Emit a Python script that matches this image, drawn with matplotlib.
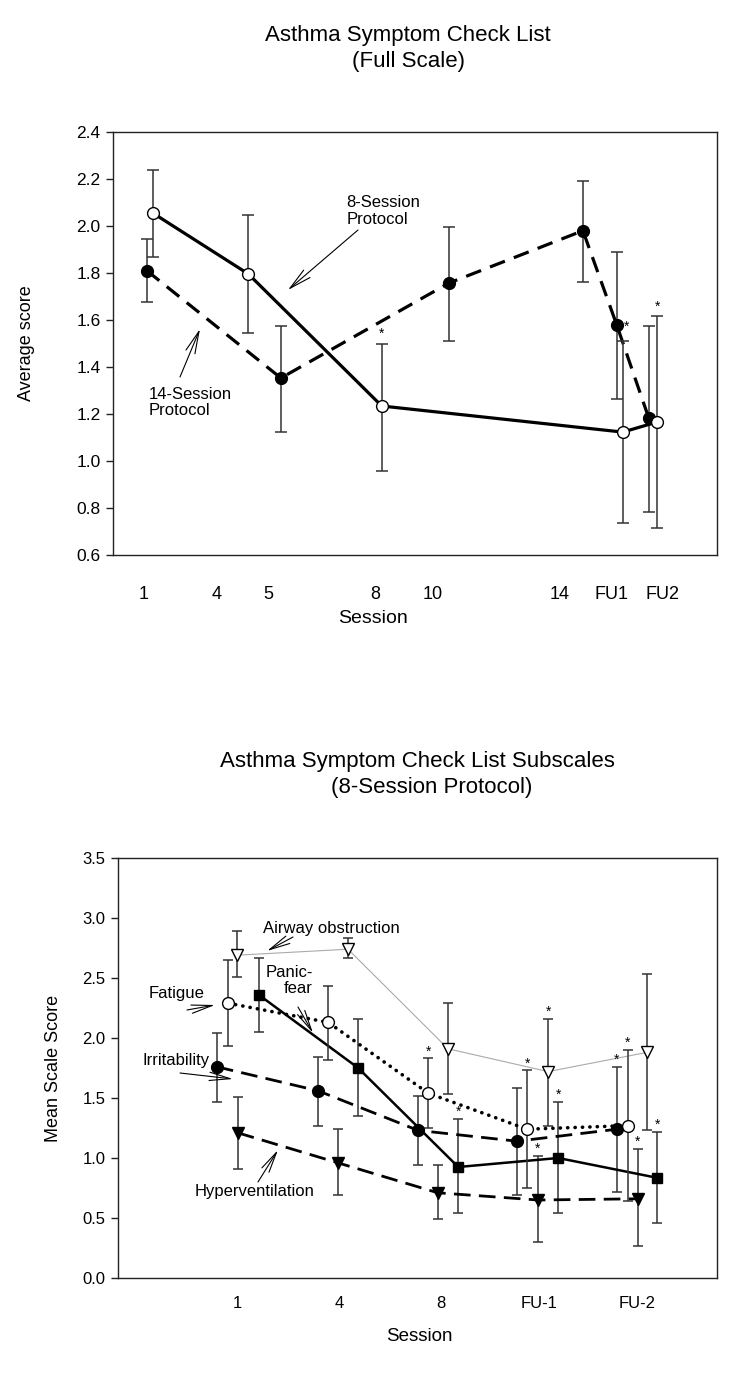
import matplotlib
matplotlib.use("Agg")
import matplotlib.pyplot as plt
import numpy as np

plt.rcParams['font.family'] = ['Liberation Sans', 'DejaVu Sans']

# ---------------- Top chart data (Full Scale) ----------------
top_tick_pos = [5.0, 17.2, 25.7, 43.5, 53.0, 74.0, 82.6, 90.9]
top_tick_labels = ['1', '4', '5', '8', '10', '14', 'FU1', 'FU2']

s8_x = [6.6, 22.4, 44.5, 84.4, 90.1]
s8_y = [2.055, 1.796, 1.234, 1.123, 1.166]
s8_hi = [2.24, 2.047, 1.50, 1.51, 1.617]
s8_lo = [1.87, 1.545, 0.957, 0.736, 0.715]
s8_star = [False, False, True, False, True]

s14_x = [5.6, 27.8, 55.6, 77.8, 83.4, 88.7]
s14_y = [1.81, 1.353, 1.757, 1.98, 1.579, 1.183]
s14_hi = [1.945, 1.574, 1.996, 2.19, 1.89, 1.574]
s14_lo = [1.677, 1.123, 1.51, 1.76, 1.264, 0.783]
s14_star = [False, False, False, False, True, False]

# ---------------- Bottom chart data (Subscales) ----------------
bot_tick_pos = [19.9, 36.9, 53.9, 70.3, 86.6]
bot_tick_labels = ['1', '4', '8', 'FU-1', 'FU-2']

air_x = [19.9, 38.4, 55.1, 71.8, 88.3]
air_y = [2.69, 2.74, 1.91, 1.72, 1.88]
air_hi = [2.89, 2.83, 2.29, 2.16, 2.53]
air_lo = [2.51, 2.67, 1.53, 1.27, 1.23]
air_star = [False, False, False, True, False]

fat_x = [18.4, 35.1, 51.8, 68.3, 85.1]
fat_y = [2.29, 2.13, 1.54, 1.24, 1.27]
fat_hi = [2.65, 2.43, 1.83, 1.73, 1.90]
fat_lo = [1.93, 1.82, 1.25, 0.75, 0.64]
fat_star = [False, False, True, True, True]

irr_x = [16.5, 33.4, 50.1, 66.6, 83.3]
irr_y = [1.76, 1.56, 1.23, 1.14, 1.24]
irr_hi = [2.04, 1.84, 1.52, 1.58, 1.76]
irr_lo = [1.47, 1.27, 0.94, 0.69, 0.72]
irr_star = [False, False, False, False, True]

pan_x = [23.5, 40.1, 56.8, 73.5, 90.0]
pan_y = [2.36, 1.75, 0.925, 1.00, 0.835]
pan_hi = [2.67, 2.16, 1.325, 1.47, 1.22]
pan_lo = [2.05, 1.35, 0.54, 0.54, 0.46]
pan_star = [False, False, True, True, True]

hyp_x = [20.0, 36.7, 53.4, 70.1, 86.8]
hyp_y = [1.21, 0.96, 0.71, 0.65, 0.66]
hyp_hi = [1.51, 1.24, 0.94, 1.02, 1.075]
hyp_lo = [0.91, 0.69, 0.49, 0.30, 0.27]
hyp_star = [False, False, False, True, True]

ERR_C = '#333333'
W = 750
H = 1396
fig = plt.figure(figsize=(W / 100, H / 100), dpi=100)


def draw_series(ax, x, y, lo, hi, stars, ls, lc, lw, marker, mfc, ms,
                cap, star_dy=5, star_side=None, dash=None, z=3,
                capstyle='butt'):
    x = np.asarray(x); y = np.asarray(y)
    lo = np.asarray(lo); hi = np.asarray(hi)
    ax.errorbar(x, y, yerr=[y - lo, hi - y], fmt='none', ecolor=ERR_C,
                elinewidth=1.1, capsize=cap, capthick=1.1, zorder=z)
    line, = ax.plot(x, y, linestyle=ls, color=lc, lw=lw, zorder=z + 1,
                    solid_capstyle='butt', dash_capstyle=capstyle)
    if dash is not None:
        line.set_dashes(dash)
    ax.plot(x, y, linestyle='none', marker=marker, mfc=mfc, mec='black',
            mew=1.0, ms=ms, zorder=z + 2)
    for xi, yi, hv, st in zip(x, y, hi, stars):
        if st:
            if star_side == 'right':
                ax.annotate('*', (xi, yi), xytext=(7, -1),
                            textcoords='offset points', ha='center',
                            va='center', fontsize=10, zorder=6)
            else:
                ax.annotate('*', (xi, hv), xytext=(0, star_dy),
                            textcoords='offset points', ha='center',
                            va='center', fontsize=10, zorder=6)


def style_axes(ax, ymin, ymax, step, fmt, lsize):
    for sp in ax.spines.values():
        sp.set_color('#222222')
        sp.set_linewidth(1.0)
    ax.set_ylim(ymin, ymax)
    ax.set_xlim(0, 100)
    ax.set_yticks(np.round(np.arange(ymin, ymax + 1e-9, step), 2))
    ax.yaxis.set_major_formatter(matplotlib.ticker.FormatStrFormatter(fmt))
    ax.tick_params(axis='y', direction='out', length=5, width=1.0,
                   color='#222222', labelsize=lsize, pad=4)


# ---------------- Top axes ----------------
ax1 = fig.add_axes([113 / W, 1 - 555 / H, 604 / W, 423 / H])
style_axes(ax1, 0.6, 2.4, 0.2, '%.1f', 12.5)
ax1.set_xticks(top_tick_pos)
ax1.set_xticklabels(top_tick_labels)
ax1.tick_params(axis='x', length=0, labelsize=13, pad=22)

draw_series(ax1, s14_x, s14_y, s14_lo, s14_hi, s14_star, '--', 'black', 2.3,
            'o', 'black', 8.5, 4.5, star_side='right', dash=(5, 3))
draw_series(ax1, s8_x, s8_y, s8_lo, s8_hi, s8_star, '-', 'black', 2.3,
            'o', 'white', 8.5, 4.5, star_dy=7, z=4)

ax1.set_ylabel('Average score', fontsize=13)
ax1.yaxis.set_label_coords(-0.129, 0.5)
ax1.set_xlabel('Session', fontsize=14)
ax1.xaxis.set_label_coords(0.43, -0.149)
ax1.xaxis.label.set_va('center')

arrow_kw1 = dict(arrowstyle='->,head_length=1.6,head_width=0.35', lw=0.8,
                 color='black', shrinkA=0, shrinkB=0)
ax1.text(0.387, 0.814, '8-Session\nProtocol', transform=ax1.transAxes,
         ha='left', va='center', fontsize=12, linespacing=1.15)
ax1.annotate('', xy=(0.2897, 0.6265), xytext=(0.4056, 0.7683),
             xycoords='axes fraction', textcoords='axes fraction',
             arrowprops=arrow_kw1)
ax1.text(0.0596, 0.3605, '14-Session\nProtocol', transform=ax1.transAxes,
         ha='left', va='center', fontsize=12, linespacing=1.15)
ax1.annotate('', xy=(0.1440, 0.5343), xytext=(0.1109, 0.4208),
             xycoords='axes fraction', textcoords='axes fraction',
             arrowprops=arrow_kw1)

fig.text(408 / W, 1 - 35 / H, 'Asthma Symptom Check List', ha='center',
         va='center', fontsize=16)
fig.text(408 / W, 1 - 61 / H, '(Full Scale)', ha='center', va='center',
         fontsize=16)

# ---------------- Bottom axes ----------------
ax2 = fig.add_axes([118 / W, 1 - 1278 / H, 599 / W, 420 / H])
style_axes(ax2, 0.0, 3.5, 0.5, '%.1f', 12)
ax2.set_xticks(bot_tick_pos)
ax2.set_xticklabels(bot_tick_labels)
ax2.tick_params(axis='x', length=0, labelsize=12, pad=13)

draw_series(ax2, air_x, air_y, air_lo, air_hi, air_star, '-', '#aaaaaa', 0.8,
            'v', 'white', 8.5, 3.8, z=2)
draw_series(ax2, hyp_x, hyp_y, hyp_lo, hyp_hi, hyp_star, '--', 'black', 2.0,
            'v', 'black', 8.5, 3.8, dash=(6, 3))
draw_series(ax2, irr_x, irr_y, irr_lo, irr_hi, irr_star, '--', 'black', 2.0,
            'o', 'black', 8.5, 3.8, dash=(6, 3))
draw_series(ax2, pan_x, pan_y, pan_lo, pan_hi, pan_star, '-', 'black', 1.8,
            's', 'black', 7.5, 3.8)
draw_series(ax2, fat_x, fat_y, fat_lo, fat_hi, fat_star, ':', 'black', 2.6,
            'o', 'white', 8.5, 3.8, dash=(0.05, 2.0), z=4, capstyle='round')

ax2.set_ylabel('Mean Scale Score', fontsize=13)
ax2.yaxis.set_label_coords(-0.094, 0.5)
ax2.set_xlabel('Session', fontsize=13.5)
ax2.xaxis.set_label_coords(0.5025, -0.14)
ax2.xaxis.label.set_va('center')

arrow_kw = dict(arrowstyle='->,head_length=1.5,head_width=0.3', lw=0.8,
                color='black', shrinkA=0, shrinkB=0)
ax2.text(0.2421, 0.831, 'Airway obstruction', transform=ax2.transAxes,
         ha='left', va='center', fontsize=12)
ax2.annotate('', xy=(0.2487, 0.7786), xytext=(0.2922, 0.8119),
             xycoords='axes fraction', textcoords='axes fraction',
             arrowprops=arrow_kw)
ax2.text(0.3255, 0.7083, 'Panic-\nfear', transform=ax2.transAxes,
         ha='right', va='center', fontsize=12, linespacing=1.05,
         multialignment='right')
ax2.annotate('', xy=(0.3255, 0.5833), xytext=(0.3005, 0.6452),
             xycoords='axes fraction', textcoords='axes fraction',
             arrowprops=arrow_kw)
ax2.text(0.0518, 0.6762, 'Fatigue', transform=ax2.transAxes,
         ha='left', va='center', fontsize=12)
ax2.annotate('', xy=(0.1619, 0.65), xytext=(0.1152, 0.6381),
             xycoords='axes fraction', textcoords='axes fraction',
             arrowprops=arrow_kw)
ax2.text(0.0401, 0.519, 'Irritability', transform=ax2.transAxes,
         ha='left', va='center', fontsize=12)
ax2.annotate('', xy=(0.192, 0.4738), xytext=(0.1035, 0.4881),
             xycoords='axes fraction', textcoords='axes fraction',
             arrowprops=arrow_kw)
ax2.text(0.1285, 0.2071, 'Hyperventilation', transform=ax2.transAxes,
         ha='left', va='center', fontsize=12)
ax2.annotate('', xy=(0.2671, 0.3048), xytext=(0.2337, 0.2286),
             xycoords='axes fraction', textcoords='axes fraction',
             arrowprops=arrow_kw)

fig.text(417 / W, 1 - 761 / H, 'Asthma Symptom Check List Subscales',
         ha='center', va='center', fontsize=16)
fig.text(432 / W, 1 - 787 / H, '(8-Session Protocol)', ha='center',
         va='center', fontsize=16)

fig.savefig('out.png', dpi=100)
